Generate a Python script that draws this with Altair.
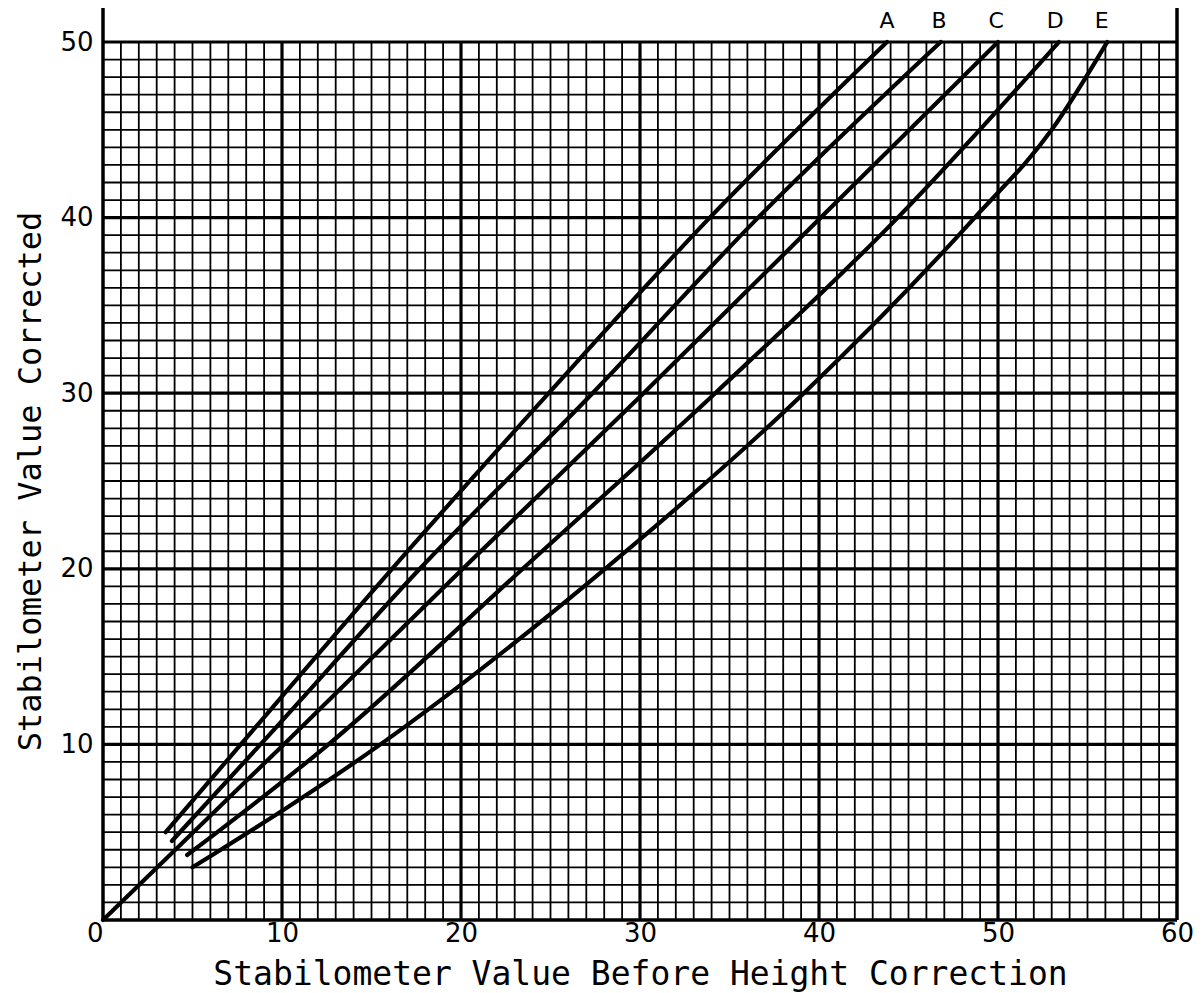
import altair as alt
import pandas as pd

# ---- data ----
curve_names = ["A", "B", "C", "D", "E"]
a_x = [3.5, 7.7, 16.15, 24.9, 33.9, 43.8]
a_y = [5.0, 10, 20, 30, 40, 50]
b_x = [3.85, 8.8, 17.7, 27.35, 36.6, 46.8]
b_y = [4.5, 10, 20, 30, 40, 50]
c_x = [0, 10.1, 20.1, 30.2, 40.1, 50.0]
c_y = [0, 10, 20, 30, 40, 50]
d_x = [4.7, 12.6, 23.45, 34.2, 44.4, 53.4]
d_y = [3.7, 10, 20, 30, 40, 50]
e_x = [5.0, 15.5, 28.05, 39.15, 48.7, 53.0, 56.1]
e_y = [3.0, 10, 20, 30, 40, 45, 50]

label_x = [43.8, 46.7, 49.9, 53.2, 55.8]
label_y = [51.2, 51.2, 51.2, 51.2, 51.2]

x_ticks = [0, 10, 20, 30, 40, 50, 60]
y_ticks = [10, 20, 30, 40, 50]
x_max = 60
y_max = 50
frame_top = 51.94

rows = []
for name, xs, ys in zip(curve_names, [a_x, b_x, c_x, d_x, e_x], [a_y, b_y, c_y, d_y, e_y]):
    for i, (xv, yv) in enumerate(zip(xs, ys)):
        rows.append({"curve": name, "x": xv, "y": yv, "order": i})
curves = pd.DataFrame(rows)

labels = pd.DataFrame({"name": curve_names, "x": label_x, "y": label_y})

vminor = pd.DataFrame({"x": [v for v in range(0, x_max + 1) if v % 10 != 0], "y": 0, "y2": y_max})
vmajor = pd.DataFrame({"x": [v for v in range(10, x_max) if v % 10 == 0], "y": 0, "y2": y_max})
hminor = pd.DataFrame({"y": [v for v in range(0, y_max + 1) if v % 10 != 0], "x": 0, "x2": x_max})
hmajor = pd.DataFrame({"y": [v for v in range(10, y_max + 1) if v % 10 == 0], "x": 0, "x2": x_max})
sides = pd.DataFrame({"x": [0, x_max], "y": 0, "y2": frame_top})
bottom = pd.DataFrame({"y": [0], "x": 0, "x2": x_max})

FONT = "DejaVu Sans"
TFONT = "DejaVu Sans Mono"

xscale = alt.Scale(domain=[0, x_max], nice=False, zero=False)
yscale = alt.Scale(domain=[0, y_max], nice=False, zero=False)

xaxis = alt.Axis(
    values=x_ticks, grid=False, domain=False, ticks=False,
    labelFontSize=26, labelFont=FONT, labelColor="black", labelPadding=0,
    labelAlign={"condition": {"test": "datum.value === 0", "value": "right"}, "value": "center"},
    title="Stabilometer Value Before Height Correction",
    titleFontSize=33, titleFont=TFONT, titleFontWeight="normal", titleColor="black",
    titlePadding=12,
)
yaxis = alt.Axis(
    values=y_ticks, grid=False, domain=False, ticks=False,
    labelFontSize=26, labelFont=FONT, labelColor="black", labelPadding=10,
    title="Stabilometer Value Corrected",
    titleFontSize=32, titleFont=TFONT, titleFontWeight="normal", titleColor="black",
    titlePadding=12,
)

base_x = alt.X("x:Q", scale=xscale, axis=xaxis)
base_y = alt.Y("y:Q", scale=yscale, axis=yaxis)

vmin_layer = alt.Chart(vminor).mark_rule(color="black", strokeWidth=1.8).encode(
    x=base_x, y=base_y, y2="y2:Q")
vmaj_layer = alt.Chart(vmajor).mark_rule(color="black", strokeWidth=3.2).encode(
    x="x:Q", y="y:Q", y2="y2:Q")
hmin_layer = alt.Chart(hminor).mark_rule(color="black", strokeWidth=1.8).encode(
    y="y:Q", x="x:Q", x2="x2:Q")
hmaj_layer = alt.Chart(hmajor).mark_rule(color="black", strokeWidth=3.2).encode(
    y="y:Q", x="x:Q", x2="x2:Q")
side_layer = alt.Chart(sides).mark_rule(color="black", strokeWidth=3.5).encode(
    x="x:Q", y="y:Q", y2="y2:Q")
bottom_layer = alt.Chart(bottom).mark_rule(color="black", strokeWidth=3.5).encode(
    y="y:Q", x="x:Q", x2="x2:Q")

curve_layer = alt.Chart(curves).mark_line(
    color="black", strokeWidth=4.2, interpolate="monotone", strokeCap="round"
).encode(
    x="x:Q", y="y:Q", detail="curve:N", order="order:Q"
)

label_layer = alt.Chart(labels).mark_text(
    font=FONT, fontSize=22, color="black", align="center", baseline="middle"
).encode(x="x:Q", y="y:Q", text="name:N")

chart = alt.layer(
    vmin_layer, vmaj_layer, hmin_layer, hmaj_layer, side_layer, bottom_layer,
    curve_layer, label_layer
).properties(
    width=1074, height=878,
    autosize=alt.AutoSizeParams(type="none"),
    padding={"left": 95, "top": 34, "right": 18, "bottom": 73},
    background="white",
).configure_view(stroke=None)

chart.save("out.html", embed_options={"renderer": "svg", "actions": False})
